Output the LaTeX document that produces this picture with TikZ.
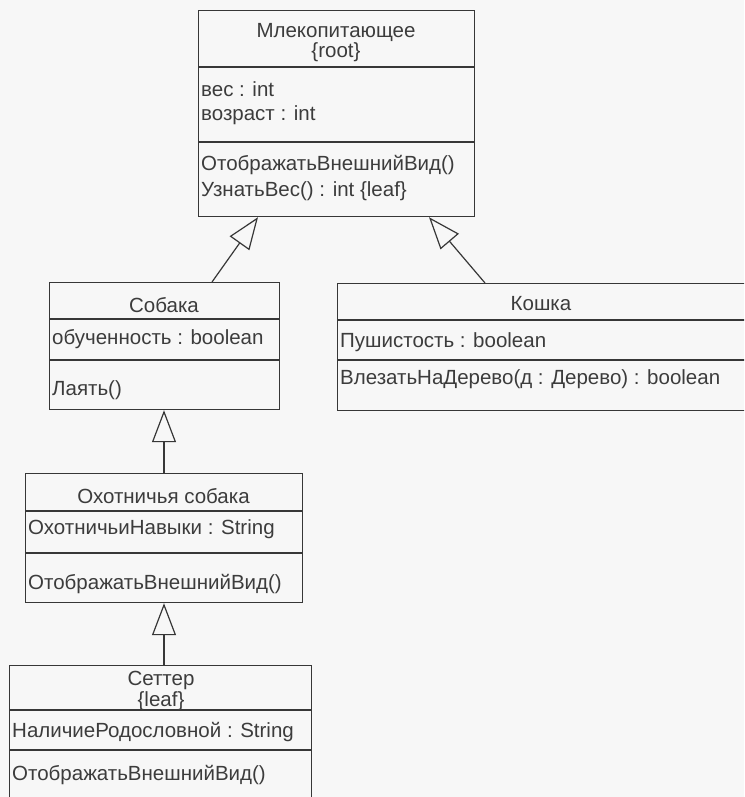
\documentclass[tikz,border=0pt]{standalone}
\usepackage{fontspec}
\setmainfont{Liberation Sans}
\usetikzlibrary{arrows.meta}
\definecolor{bg}{RGB}{247,247,247}
\definecolor{ink}{RGB}{60,60,60}
\definecolor{linec}{RGB}{55,55,55}
\tikzset{
  classbox/.style={draw=linec, line width=1.2pt, rectangle, inner sep=0pt, anchor=north west},
  sep/.style={draw=linec, line width=1.2pt},
  txt/.style={text=ink, inner sep=0pt, anchor=base west, font=\fontsize{20.5}{22}\selectfont},
  ctxt/.style={text=ink, inner sep=0pt, anchor=base, font=\fontsize{20.5}{22}\selectfont},
  ttxt/.style={text=ink, inner sep=0pt, anchor=center, align=center, font=\fontsize{20.5}{17.5}\selectfont},
  inherit/.style={draw=linec, line width=1.2pt, -{Triangle[open, length=32pt, width=24pt]}}
}
\begin{document}
\begin{tikzpicture}[x=1pt, y=-1pt]
\useasboundingbox[fill=bg] (0,0) rectangle (744,797);
\clip (0,0) rectangle (744,797);

% Mammal
\node[classbox, minimum width=276pt, minimum height=206pt] (mammal) at (198,10) {};
\draw[sep] (198,67) -- (474,67);
\draw[sep] (198,142) -- (474,142);
\node[ttxt] (m1) at (336,43) {Млекопитающее\\\{root\}};
\node[txt] (m3) at (201,97) {вес : int};
\node[txt] (m4) at (201,121) {возраст : int};
\node[txt] (m5) at (201,170) {ОтображатьВнешнийВид()};
\node[txt] (m6) at (201,196) {УзнатьВес() : int \{leaf\}};

% Sobaka
\node[classbox, minimum width=230pt, minimum height=127pt] (dog) at (49,282) {};
\draw[sep] (49,319) -- (279,319);
\draw[sep] (49,360) -- (279,360);
\node[ctxt] (d1) at (164,312) {Собака};
\node[txt] (d2) at (52,344) {обученность : boolean};
\node[txt] (d3) at (52,395) {Лаять()};

% Koshka
\node[classbox, minimum width=410pt, minimum height=127pt] (cat) at (337,283) {};
\draw[sep] (337,320) -- (747,320);
\draw[sep] (337,360) -- (747,360);
\node[ctxt] (c1) at (541,310) {Кошка};
\node[txt] (c2) at (340,347) {Пушистость : boolean};
\node[txt] (c3) at (340,384) {ВлезатьНаДерево(д : Дерево) : boolean};

% Hunting dog
\node[classbox, minimum width=277pt, minimum height=129pt] (hunt) at (25,473) {};
\draw[sep] (25,511) -- (302,511);
\draw[sep] (25,553) -- (302,553);
\node[ctxt] (h1) at (163.5,503) {Охотничья собака};
\node[txt] (h2) at (28,534) {ОхотничьиНавыки : String};
\node[txt] (h3) at (28,589) {ОтображатьВнешнийВид()};

% Setter
\node[classbox, minimum width=302pt, minimum height=140pt] (setter) at (9,665) {};
\draw[sep] (9,710) -- (311,710);
\draw[sep] (9,750) -- (311,750);
\node[ttxt] (s1) at (161,691) {Сеттер\\\{leaf\}};
\node[txt] (s3) at (12,737) {НаличиеРодословной : String};
\node[txt] (s4) at (12,780) {ОтображатьВнешнийВид()};

% Generalisation connectors
\coordinate (p1) at (212,0);
\coordinate (q1) at (258,0);
\coordinate (p2) at (485,0);
\coordinate (q2) at (429,0);
\coordinate (p3) at (164,0);
\draw[inherit] (dog.north -| p1) -- (mammal.south -| q1);
\draw[inherit] (cat.north -| p2) -- (mammal.south -| q2);
\draw[inherit] (hunt.north -| p3) -- (dog.south -| p3);
\draw[inherit] (setter.north -| p3) -- (hunt.south -| p3);
\end{tikzpicture}
\end{document}
